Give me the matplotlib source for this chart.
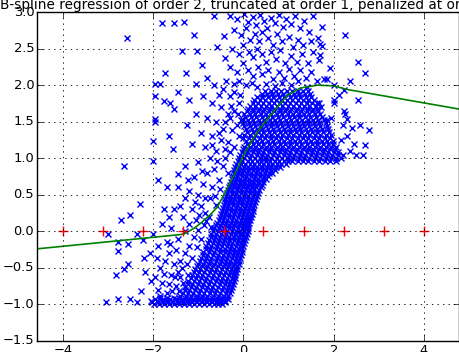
import numpy as np
import matplotlib
matplotlib.use("Agg")
from matplotlib import pyplot as plt

plt.style.use("classic")

title = "B-spline regression of order 2, truncated at order 1, penalized at order 1"

# knot positions (red +)
knots = [-4.0, -3.11, -2.22, -1.33, -0.44, 0.44, 1.33, 2.22, 3.11, 4.0]

# fitted curve
curve_x = [-4.58, -1.33, -1.1, -0.95, -0.75, -0.58, -0.35, -0.15, 0.0, 0.15, 0.31,
           0.51, 0.75, 0.97, 1.26, 1.64, 2.0, 2.3, 4.8]
curve_y = [-0.24, -0.04, 0.04, 0.11, 0.22, 0.33, 0.60, 0.84, 1.04, 1.20, 1.36,
           1.52, 1.70, 1.86, 1.96, 2.00, 1.99, 1.94, 1.67]

# dense part of the cloud, one row of x values per y level
bottom_rows = [
    (-0.99, [-1.98, -1.87, -1.76, -1.65, -1.54, -1.43, -1.32, -1.21, -1.10, -0.99, -0.88, -0.77, -0.66, -0.56, -0.47]),
    (-0.97, [-2.02, -1.90, -1.79, -1.68, -1.57, -1.46, -1.35, -1.24, -1.13, -1.02, -0.91, -0.80, -0.69, -0.59, -0.49, -0.40]),
    (-0.95, [-2.04, -1.92, -1.81, -1.70, -1.59, -1.48, -1.37, -1.26, -1.15, -1.04, -0.93, -0.82, -0.71, -0.61, -0.51, -0.42]),
    (-0.93, [-1.95, -1.78, -1.62, -1.49, -1.36, -1.24, -1.12, -1.00, -0.88, -0.76, -0.64, -0.53, -0.43, -0.35]),
    (-0.91, [-1.86, -1.70, -1.55, -1.42, -1.30, -1.18, -1.06, -0.94, -0.82, -0.70, -0.59, -0.48, -0.38]),
]

core_low_rows = [
    (-0.88, [-1.40, -1.28, -1.16, -1.04, -0.92, -0.80, -0.68, -0.56, -0.44, -0.34]),
    (-0.84, [-1.35, -1.23, -1.11, -0.99, -0.87, -0.75, -0.63, -0.51, -0.39, -0.29]),
    (-0.80, [-1.30, -1.20, -1.08, -0.96, -0.84, -0.72, -0.60, -0.48, -0.37, -0.27]),
    (-0.76, [-1.29, -1.17, -1.05, -0.93, -0.81, -0.69, -0.57, -0.45, -0.34, -0.25]),
    (-0.72, [-1.24, -1.13, -1.01, -0.89, -0.77, -0.65, -0.53, -0.42, -0.31, -0.23]),
    (-0.68, [-1.22, -1.10, -0.98, -0.86, -0.74, -0.62, -0.50, -0.39, -0.29, -0.21]),
    (-0.64, [-1.16, -1.06, -0.94, -0.82, -0.70, -0.58, -0.47, -0.36, -0.26, -0.19]),
    (-0.60, [-1.15, -1.03, -0.91, -0.79, -0.67, -0.55, -0.44, -0.33, -0.24, -0.18]),
    (-0.56, [-1.09, -0.99, -0.87, -0.75, -0.63, -0.51, -0.40, -0.30, -0.21, -0.16]),
    (-0.52, [-1.08, -0.96, -0.84, -0.72, -0.60, -0.48, -0.37, -0.27, -0.19, -0.14]),
    (-0.48, [-1.02, -0.92, -0.80, -0.68, -0.56, -0.45, -0.34, -0.24, -0.15]),
    (-0.44, [-1.01, -0.89, -0.77, -0.65, -0.53, -0.42, -0.31, -0.21, -0.11]),
    (-0.40, [-0.97, -0.86, -0.74, -0.62, -0.50, -0.39, -0.29, -0.19, -0.10]),
    (-0.36, [-0.95, -0.83, -0.71, -0.59, -0.47, -0.36, -0.26, -0.16, -0.08]),
    (-0.32, [-0.90, -0.80, -0.68, -0.56, -0.45, -0.34, -0.24, -0.14, -0.06]),
    (-0.28, [-0.89, -0.77, -0.65, -0.53, -0.42, -0.31, -0.21, -0.12, -0.04]),
    (-0.24, [-0.84, -0.74, -0.62, -0.51, -0.40, -0.30, -0.20, -0.11, -0.03]),
    (-0.20, [-0.83, -0.71, -0.59, -0.48, -0.37, -0.27, -0.17, -0.08, -0.01]),
    (-0.16, [-0.79, -0.68, -0.57, -0.46, -0.35, -0.25, -0.15, -0.06, 0.01]),
    (-0.12, [-0.77, -0.65, -0.54, -0.43, -0.32, -0.22, -0.12, -0.04, 0.03]),
    (-0.08, [-0.73, -0.63, -0.52, -0.41, -0.31, -0.21, -0.11, -0.02, 0.05]),
    (-0.04, [-0.71, -0.60, -0.49, -0.38, -0.28, -0.18, -0.08, 0.00, 0.07]),
    (0.00, [-0.67, -0.57, -0.46, -0.36, -0.26, -0.16, -0.07, 0.02, 0.09]),
    (0.04, [-0.65, -0.54, -0.43, -0.33, -0.23, -0.13, -0.04, 0.04, 0.10]),
    (0.08, [-0.61, -0.51, -0.41, -0.31, -0.21, -0.11, -0.02, 0.06, 0.11]),
    (0.12, [-0.59, -0.48, -0.38, -0.28, -0.18, -0.08, 0.01, 0.08, 0.13]),
    (0.16, [-0.55, -0.46, -0.36, -0.26, -0.16, -0.06, 0.03, 0.10, 0.15]),
    (0.20, [-0.53, -0.43, -0.33, -0.23, -0.13, -0.03, 0.06, 0.12, 0.17]),
    (0.24, [-0.50, -0.41, -0.31, -0.21, -0.11, -0.01, 0.08, 0.16, 0.19]),
    (0.28, [-0.48, -0.38, -0.28, -0.18, -0.08, 0.02, 0.11, 0.20]),
    (0.32, [-0.46, -0.37, -0.27, -0.17, -0.07, 0.03, 0.12, 0.21]),
    (0.36, [-0.44, -0.34, -0.24, -0.14, -0.04, 0.06, 0.15, 0.24]),
    (0.40, [-0.42, -0.33, -0.23, -0.13, -0.03, 0.07, 0.16, 0.25]),
    (0.44, [-0.40, -0.30, -0.20, -0.10, 0.00, 0.10, 0.19, 0.28]),
    (0.48, [-0.38, -0.29, -0.19, -0.09, 0.01, 0.11, 0.20, 0.29]),
    (0.52, [-0.36, -0.26, -0.16, -0.06, 0.04, 0.14, 0.23, 0.32]),
    (0.56, [-0.34, -0.25, -0.15, -0.05, 0.05, 0.15, 0.24, 0.34]),
    (0.60, [-0.32, -0.22, -0.12, -0.02, 0.08, 0.18, 0.28, 0.38]),
    (0.64, [-0.30, -0.21, -0.11, -0.01, 0.09, 0.19, 0.29, 0.40]),
    (0.68, [-0.28, -0.18, -0.08, 0.02, 0.12, 0.22, 0.32, 0.44]),
    (0.72, [-0.26, -0.17, -0.07, 0.03, 0.13, 0.23, 0.33, 0.43, 0.50]),
    (0.76, [-0.24, -0.14, -0.04, 0.06, 0.16, 0.26, 0.36, 0.46, 0.55]),
    (0.80, [-0.22, -0.13, -0.03, 0.07, 0.17, 0.27, 0.37, 0.47, 0.56, 0.63]),
    (0.84, [-0.20, -0.10, 0.00, 0.10, 0.20, 0.30, 0.40, 0.50, 0.60, 0.70]),
    (0.88, [-0.18, -0.09, 0.01, 0.11, 0.21, 0.31, 0.41, 0.51, 0.61, 0.71, 0.80]),
    (0.92, [-0.16, -0.06, 0.04, 0.14, 0.24, 0.34, 0.44, 0.54, 0.64, 0.74, 0.84, 0.94]),
    (0.96, [-0.13, -0.03, 0.09, 0.19, 0.29, 0.39, 0.49, 0.59, 0.69, 0.79, 0.89, 0.99, 1.08, 1.20,
            1.32, 1.44, 1.56, 1.68, 1.80, 1.92, 2.04]),
]

core_high_rows = [
    (1.00, [-0.10, 0.02, 0.14, 0.26, 0.38, 0.50, 0.62, 0.74, 0.86, 0.98, 1.10, 1.22, 1.34, 1.46, 1.58, 1.70, 1.82, 1.94, 2.06, 2.16]),
    (1.04, [-0.07, 0.05, 0.17, 0.29, 0.41, 0.53, 0.65, 0.77, 0.89, 1.01, 1.13, 1.25, 1.37, 1.49, 1.61, 1.73, 1.85, 1.97, 2.09]),
    (1.08, [-0.04, 0.08, 0.20, 0.32, 0.44, 0.56, 0.68, 0.80, 0.92, 1.04, 1.16, 1.28, 1.40, 1.52, 1.64, 1.76, 1.88, 2.00, 2.10]),
    (1.12, [-0.01, 0.11, 0.23, 0.35, 0.47, 0.59, 0.71, 0.83, 0.95, 1.07, 1.19, 1.31, 1.43, 1.55, 1.67, 1.79, 1.91, 2.02]),
    (1.16, [0.02, 0.14, 0.26, 0.38, 0.50, 0.62, 0.74, 0.86, 0.98, 1.10, 1.22, 1.34, 1.46, 1.58, 1.70, 1.82, 1.94, 2.04]),
    (1.20, [0.08, 0.20, 0.32, 0.44, 0.56, 0.68, 0.80, 0.92, 1.04, 1.16, 1.28, 1.40, 1.52, 1.64, 1.76, 1.88, 1.99]),
    (1.24, [0.06, 0.18, 0.30, 0.42, 0.54, 0.66, 0.78, 0.90, 1.02, 1.14, 1.26, 1.38, 1.50, 1.62, 1.74, 1.86, 1.98]),
    (1.28, [0.00, 0.12, 0.24, 0.36, 0.48, 0.60, 0.72, 0.84, 0.96, 1.08, 1.20, 1.32, 1.44, 1.56, 1.68, 1.80, 1.92]),
    (1.32, [0.02, 0.14, 0.26, 0.38, 0.50, 0.62, 0.74, 0.86, 0.98, 1.10, 1.22, 1.34, 1.46, 1.58, 1.70, 1.82, 1.94]),
    (1.36, [0.08, 0.20, 0.32, 0.44, 0.56, 0.68, 0.80, 0.92, 1.04, 1.16, 1.28, 1.40, 1.52, 1.64, 1.76, 1.90]),
    (1.40, [0.06, 0.18, 0.30, 0.42, 0.54, 0.66, 0.78, 0.90, 1.02, 1.14, 1.26, 1.38, 1.50, 1.62, 1.74, 1.88]),
    (1.44, [0.02, 0.14, 0.26, 0.38, 0.50, 0.62, 0.74, 0.86, 0.98, 1.10, 1.22, 1.34, 1.46, 1.58, 1.70, 1.84]),
    (1.48, [0.00, 0.12, 0.24, 0.36, 0.48, 0.60, 0.72, 0.84, 0.96, 1.08, 1.20, 1.32, 1.44, 1.56, 1.68, 1.82]),
    (1.52, [-0.02, 0.10, 0.22, 0.34, 0.46, 0.58, 0.70, 0.82, 0.94, 1.06, 1.18, 1.30, 1.42, 1.54, 1.66, 1.78]),
    (1.56, [0.04, 0.16, 0.28, 0.40, 0.52, 0.64, 0.76, 0.88, 1.00, 1.12, 1.24, 1.36, 1.48, 1.60, 1.74]),
    (1.60, [0.02, 0.14, 0.26, 0.38, 0.50, 0.62, 0.74, 0.86, 0.98, 1.10, 1.22, 1.34, 1.46, 1.58, 1.70]),
    (1.64, [0.08, 0.20, 0.32, 0.44, 0.56, 0.68, 0.80, 0.92, 1.04, 1.16, 1.28, 1.40, 1.52, 1.66]),
    (1.68, [0.10, 0.22, 0.34, 0.46, 0.58, 0.70, 0.82, 0.94, 1.06, 1.18, 1.30, 1.42, 1.54, 1.64]),
    (1.72, [0.14, 0.26, 0.38, 0.50, 0.62, 0.74, 0.86, 0.98, 1.10, 1.22, 1.34, 1.46, 1.60]),
    (1.76, [0.20, 0.32, 0.44, 0.56, 0.68, 0.80, 0.92, 1.04, 1.16, 1.28, 1.40, 1.52, 1.62]),
    (1.80, [0.24, 0.36, 0.48, 0.60, 0.72, 0.84, 0.96, 1.08, 1.20, 1.32, 1.44, 1.56]),
    (1.84, [0.30, 0.42, 0.54, 0.66, 0.78, 0.90, 1.02, 1.14, 1.26, 1.38, 1.50]),
    (1.88, [0.40, 0.52, 0.64, 0.76, 0.88, 1.00, 1.12, 1.24, 1.36, 1.48]),
    (1.92, [0.48, 0.60, 0.72, 0.84, 0.96, 1.08, 1.20, 1.32, 1.44]),
]

# scattered points around the dense part
left_pts = [
    (-3.05, -0.96), (-2.79, -0.92), (-2.52, -0.93), (-2.37, -0.96), (-2.83, -0.60), (-2.65, -0.52),
    (-2.57, -0.45), (-2.79, -0.27), (-2.79, -0.15), (-2.57, -0.18), (-3.00, -0.04), (-2.37, -0.04),
    (-2.23, -0.12), (-2.21, -0.36), (-2.08, -0.29), (-2.19, -0.56), (-2.06, -0.68), (-2.28, -0.81),
    (-2.01, -0.04), (-2.72, 0.15), (-2.52, 0.22), (-2.30, 0.37), (-2.65, 0.90), (-2.01, 0.96),
    (-2.01, 1.23), (-1.64, 1.31), (-1.57, 1.12), (-1.97, 1.49), (-1.77, 0.30), (-1.64, 0.19),
    (-1.53, 0.31), (-1.46, 0.78), (-1.46, 0.60),
    (-1.90, -0.80), (-1.80, -0.70), (-1.70, -0.85), (-1.60, -0.60), (-1.50, -0.75), (-1.85, -0.50),
    (-1.75, -0.40), (-1.65, -0.30), (-1.55, -0.45), (-1.45, -0.55), (-1.90, -0.20), (-1.70, -0.15),
    (-1.50, -0.25), (-1.40, -0.40), (-1.35, -0.70), (-1.45, -0.10), (-1.60, 0.05), (-1.80, 0.10),
    (-1.96, -0.62), (-1.84, -0.88), (-1.76, -0.58), (-1.66, -0.72), (-1.58, -0.82), (-1.52, -0.62),
    (-1.42, -0.82), (-1.40, -0.62), (-1.36, -0.50), (-1.30, -0.30), (-1.26, -0.44), (-1.22, -0.60),
    (-1.20, -0.20), (-1.14, -0.36), (-1.10, -0.08), (-1.04, -0.22), (-1.00, 0.02), (-0.94, -0.10),
    (-0.88, 0.08), (-0.82, 0.14), (-0.76, 0.20), (-0.72, 0.06), (-1.62, -0.18), (-1.92, -0.36),
    (-1.30, 0.00), (-1.20, 0.10), (-1.35, 0.20), (-1.15, 0.30), (-1.05, 0.15), (-0.95, 0.35),
    (-0.85, 0.25), (-0.75, 0.45), (-1.00, 0.50), (-1.20, 0.55), (-0.90, 0.65), (-0.70, 0.60),
    (-1.10, 0.75), (-0.80, 0.80), (-0.65, 0.85), (-0.55, 0.70), (-1.30, 0.90), (-1.00, 0.95),
    (-0.75, 1.00), (-0.60, 1.10), (-0.85, 1.15), (-1.15, 1.20), (-0.50, 1.25), (-0.70, 1.30),
    (-0.95, 1.35), (-1.25, 1.45), (-0.45, 1.40), (-0.60, 1.50), (-0.80, 1.55), (-1.05, 1.60),
    (-0.35, 1.60), (-0.50, 1.70), (-0.70, 1.75), (-0.90, 1.85), (-1.20, 1.80), (-0.30, 1.85),
    (-0.45, 1.95), (-0.65, 2.00), (-1.30, 0.45), (-1.70, 0.60), (-1.90, 0.70),
    (-1.08, 0.40), (-0.98, 0.22), (-0.86, 0.45), (-0.64, 0.48), (-0.60, 0.36), (-0.92, 0.82),
    (-0.58, 0.96), (-0.52, 0.58), (-1.40, 0.35), (-1.24, 0.70), (-0.70, 1.18), (-0.55, 1.35),
    (-0.40, 1.00), (-0.30, 1.08), (-0.20, 1.15), (-0.35, 1.22), (-0.10, 1.30), (-0.25, 1.38),
    (-0.15, 1.46), (-0.05, 1.52), (-0.30, 1.55), (-0.20, 1.65), (-0.10, 1.75), (-0.20, 1.90),
    (-0.40, 1.12), (-0.45, 0.90), (-0.35, 0.80), (-0.40, 1.50), (-0.28, 1.72), (-0.12, 1.60),
    (-0.08, 1.86), (-0.38, 2.06), (-0.22, 2.02), (-0.55, 1.86), (-0.80, 2.10), (-1.05, 2.02),
]

top_pts = [
    (-2.59, 2.64), (-1.81, 2.85), (-1.55, 2.85), (-1.73, 2.16), (-1.97, 2.01), (-1.84, 2.02),
    (-1.95, 1.85), (-1.77, 1.78), (-1.62, 1.75), (-1.53, 1.67), (-1.46, 1.90), (-1.97, 1.53),
    (-1.31, 2.87), (-0.66, 2.94), (-1.10, 2.68), (-0.44, 2.67), (-1.37, 2.46), (-1.04, 2.47),
    (-0.58, 2.52), (-0.40, 2.37), (-0.93, 2.28), (-1.28, 2.16),
    (-0.30, 2.95), (-0.15, 2.90), (0.02, 2.97), (0.10, 2.86), (0.20, 2.93), (0.28, 2.82),
    (0.36, 2.96), (0.45, 2.88), (0.52, 2.78), (0.60, 2.92), (0.70, 2.85), (0.78, 2.96),
    (0.88, 2.80), (0.95, 2.90), (1.05, 2.84), (1.15, 2.95), (1.25, 2.78), (1.35, 2.88),
    (1.45, 2.72), (1.55, 2.95), (-0.20, 2.75), (-0.05, 2.68), (0.05, 2.78), (0.15, 2.62),
    (0.25, 2.70), (0.35, 2.60), (0.42, 2.72), (0.55, 2.64), (0.65, 2.55), (0.75, 2.70),
    (0.85, 2.60), (1.00, 2.66), (1.10, 2.52), (1.20, 2.62), (1.32, 2.55), (1.50, 2.60),
    (-0.25, 2.50), (-0.10, 2.42), (0.00, 2.55), (0.12, 2.45), (0.22, 2.38), (0.30, 2.50),
    (0.40, 2.42), (0.50, 2.32), (0.60, 2.45), (0.72, 2.36), (0.82, 2.48), (0.92, 2.30),
    (1.05, 2.40), (1.18, 2.32), (1.30, 2.42), (1.42, 2.30), (1.55, 2.45), (-0.30, 2.25),
    (-0.15, 2.18), (-0.02, 2.30), (0.10, 2.20), (0.20, 2.12), (0.32, 2.25), (0.42, 2.15),
    (0.55, 2.20), (0.65, 2.08), (0.78, 2.18), (0.90, 2.10), (1.00, 2.22), (1.12, 2.12),
    (1.25, 2.20), (1.38, 2.10), (1.50, 2.18), (1.62, 2.05), (-0.10, 2.05), (0.05, 2.00),
    (0.18, 2.03), (0.30, 1.98), (0.50, 2.02), (0.70, 1.99), (0.85, 2.03), (1.05, 2.00),
    (1.20, 2.05), (1.40, 1.98),
]

right_pts = [
    (1.73, 2.80), (2.26, 2.68), (2.54, 2.31), (2.70, 2.17), (2.35, 2.05), (2.54, 1.80),
    (2.59, 1.46), (2.79, 1.38), (2.70, 1.18), (2.65, 1.04), (1.66, 2.65), (1.70, 2.56),
    (1.75, 2.54), (1.70, 2.41), (1.68, 2.34), (1.92, 2.23), (1.79, 2.08), (1.84, 2.08),
    (2.00, 2.00), (2.12, 1.87), (2.23, 1.93), (2.00, 1.80), (2.00, 1.76), (2.23, 1.65),
    (2.25, 1.60), (1.68, 1.75), (1.72, 1.70), (2.30, 1.53), (1.95, 1.55), (1.85, 1.52),
    (2.20, 1.45), (2.40, 1.42), (2.30, 1.30), (2.15, 1.25), (2.45, 1.20), (2.35, 1.10),
    (2.50, 1.05), (2.20, 1.05),
]


def rows_to_xy(rows):
    xs, ys = [], []
    for y, row in rows:
        xs += row
        ys += [y] * len(row)
    return xs, ys


pts_x, pts_y = [], []
for rows in (bottom_rows, core_low_rows, core_high_rows):
    rx, ry = rows_to_xy(rows)
    pts_x += rx
    pts_y += ry
for group in (left_pts, top_pts, right_pts):
    pts_x += [p[0] for p in group]
    pts_y += [p[1] for p in group]

fig = plt.figure(figsize=(4.6, 3.52), dpi=100)
fig.patch.set_facecolor("white")
ax = fig.add_axes([37 / 460, 11 / 352, 422 / 460, 329 / 352])

ax.plot(pts_x, pts_y, "bx", ms=5, mew=1.0)
ax.plot(curve_x, curve_y, "g-", lw=1.2)
ax.plot(knots, np.zeros(len(knots)), "r+", ms=7, mew=1.0)

ax.set_xlim(-4.576, 4.776)
ax.set_ylim(-1.5, 3.0)
ax.set_xticks([-4, -2, 0, 2, 4])
ax.set_yticks([-1.5, -1.0, -0.5, 0.0, 0.5, 1.0, 1.5, 2.0, 2.5, 3.0])
ax.grid(True, color="k", linestyle=":", linewidth=0.6)
ax.tick_params(labelsize=9.4, pad=2)
ax.set_title(title, fontsize=9.8, pad=2)

fig.savefig("out.png", dpi=100, facecolor="white")
